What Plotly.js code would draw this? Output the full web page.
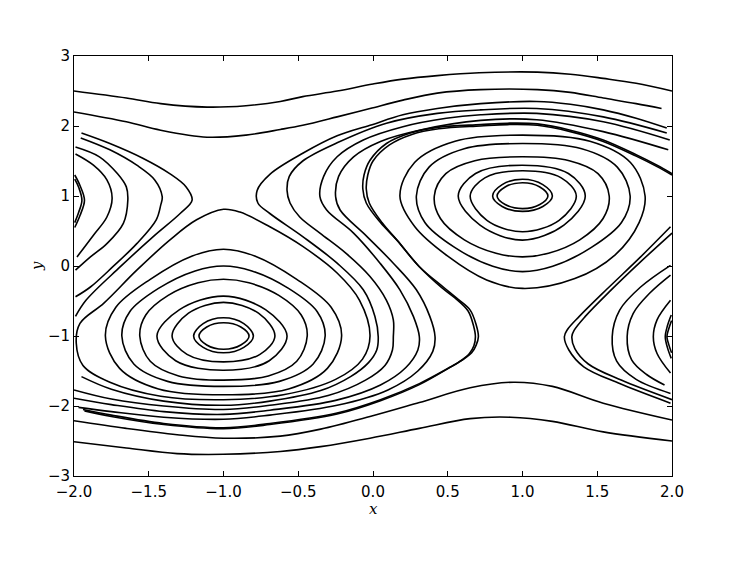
<!DOCTYPE html>
<html>
<head>
<meta charset="utf-8">
<script src="https://cdn.plot.ly/plotly-3.0.1.min.js"></script>
<style>body{margin:0;background:#fff}</style>
</head>
<body>
<div id="plot" style="width:747px;height:561px"></div>
<script>
// streamlines (data units)

// top band
var bandTop1X = [-2,-1.65,-1.42,-1.11,-0.85,-0.62,-0.47,-0.24,0,0.2,0.43,0.71,1.1,1.32,1.54,1.76,2];
var bandTop1Y = [2.5,2.4,2.32,2.27,2.29,2.35,2.42,2.5,2.6,2.67,2.72,2.76,2.77,2.74,2.68,2.61,2.5];
var bandTop2X = [-2,-1.65,-1.42,-1.11,-0.85,-0.62,-0.47,-0.24,-0.02,0.2,0.43,0.72,1.1,1.32,1.54,1.76,1.93];
var bandTop2Y = [2.2,2.06,1.94,1.84,1.87,1.95,2.01,2.13,2.25,2.37,2.47,2.52,2.52,2.48,2.4,2.32,2.25];

// bottom band
var bandBot1X = [-2,-1.65,-1.31,-1.0,-0.62,-0.35,-0.02,0.31,0.65,0.92,1.2,1.54,2];
var bandBot1Y = [-2.51,-2.6,-2.68,-2.69,-2.65,-2.58,-2.46,-2.32,-2.18,-2.16,-2.22,-2.37,-2.5];
var bandBot2X = [-2,-1.65,-1.31,-1.0,-0.62,-0.35,-0.02,0.31,0.65,0.94,1.2,1.54,2];
var bandBot2Y = [-2.21,-2.32,-2.41,-2.46,-2.43,-2.33,-2.15,-1.95,-1.74,-1.66,-1.72,-1.96,-2.2];

// left of the saddle at (-1, 1)
var left1X = [-1.95,-1.76,-1.54,-1.36,-1.25,-1.21,-1.29,-1.47,-1.69,-1.92,-1.99];
var left1Y = [1.9,1.75,1.54,1.32,1.13,0.94,0.75,0.42,-0.01,-0.49,-0.72];
var left2X = [-1.955,-1.76,-1.58,-1.46,-1.41,-1.42,-1.45,-1.58,-1.74,-1.89,-1.99];
var left2Y = [1.83,1.66,1.44,1.23,0.99,0.87,0.66,0.32,-0.01,-0.3,-0.44];
var left3X = [-1.99,-1.83,-1.71,-1.65,-1.64,-1.67,-1.78,-1.89,-1.99];
var left3Y = [1.7,1.56,1.32,1.13,0.94,0.61,0.32,0.13,-0.06];
var left4X = [-1.99,-1.87,-1.78,-1.745,-1.78,-1.87,-1.98];
var left4Y = [1.6,1.44,1.23,0.97,0.7,0.44,0.13];
var edgeL1X = [-1.995,-1.96,-1.93,-1.96,-1.995];
var edgeL1Y = [1.3,1.15,0.94,0.72,0.55];
var edgeL2X = [-1.995,-1.968,-1.947,-1.968,-1.995];
var edgeL2Y = [1.24,1.12,0.94,0.77,0.62];

// right of the saddle at (1, -1)
var right1X = [1.99,1.79,1.65,1.6,1.63,1.76,1.99];
var right1Y = [0.01,-0.3,-0.63,-1.01,-1.36,-1.62,-1.82];
var right2X = [1.99,1.85,1.74,1.7,1.73,1.83,1.95];
var right2Y = [-0.13,-0.39,-0.68,-1.01,-1.34,-1.55,-1.7];
var right3X = [1.99,1.9,1.875,1.9,1.99];
var right3Y = [-0.49,-0.77,-1.01,-1.25,-1.53];
var rightU1X = [1.99,1.79,1.56,1.38,1.3,1.28,1.31,1.41,1.65,1.99];
var rightU1Y = [0.56,0.13,-0.34,-0.72,-0.91,-1.01,-1.2,-1.44,-1.68,-1.96];
var rightU2X = [2.0,1.8,1.58,1.42,1.345,1.33,1.35,1.44,1.66,2.0];
var rightU2Y = [0.47,0.08,-0.37,-0.72,-0.92,-1.01,-1.18,-1.4,-1.63,-1.91];
var edgeR1X = [1.995,1.97,1.955,1.97,1.995];
var edgeR1Y = [-0.7,-0.85,-1.01,-1.17,-1.32];
var edgeR2X = [1.997,1.978,1.966,1.978,1.997];
var edgeR2Y = [-0.78,-0.9,-1.01,-1.12,-1.24];

// long S-shaped lines, bottom left to top right
var s0X = [-1.95,-1.75,-1.4,-1.0,-0.69,-0.35,-0.15,-0.03,0.025,0.035,0.013,-0.065,-0.24,-0.47,-0.69,-0.77,-0.775,-0.69,-0.47,-0.24,-0.02,0.2,0.43,0.72,1.095,1.32,1.54,1.76,1.965];
var s0Y = [-1.58,-1.76,-1.93,-1.99,-1.93,-1.78,-1.58,-1.38,-1.2,-1.01,-0.72,-0.34,0.04,0.42,0.75,0.9,1.08,1.31,1.61,1.86,2.01,2.16,2.25,2.32,2.35,2.31,2.23,2.11,1.97];
var s1X = [-2.0,-1.75,-1.4,-1.0,-0.69,-0.3,-0.05,0.08,0.13,0.136,0.136,0.09,-0.02,-0.18,-0.355,-0.49,-0.555,-0.575,-0.56,-0.47,-0.24,0.09,0.43,0.72,1.095,1.54,1.965];
var s1Y = [-1.77,-1.9,-2.0,-2.05,-1.99,-1.85,-1.63,-1.42,-1.2,-1.01,-0.77,-0.49,-0.15,0.18,0.47,0.7,0.9,1.08,1.28,1.5,1.76,2.04,2.18,2.23,2.25,2.13,1.9];
var s2X = [-2.0,-1.75,-1.4,-1.0,-0.69,-0.25,0.05,0.22,0.3,0.31,0.27,0.18,0.047,-0.13,-0.31,-0.355,-0.33,-0.24,-0.065,0.2,0.49,0.72,1.095,1.54,1.985];
var s2Y = [-1.89,-1.98,-2.08,-2.12,-2.06,-1.92,-1.7,-1.45,-1.2,-1.01,-0.72,-0.34,0.04,0.47,0.8,0.99,1.28,1.56,1.8,1.99,2.11,2.16,2.18,2.06,1.8];
var s3X = [-1.97,-1.75,-1.4,-1.0,-0.69,-0.24,0.1,0.3,0.4,0.415,0.38,0.29,0.136,-0.04,-0.22,-0.25,-0.23,-0.13,0.05,0.31,0.72,1.095,1.54,1.975];
var s3Y = [-2.02,-2.08,-2.16,-2.19,-2.13,-1.99,-1.77,-1.5,-1.22,-1.01,-0.72,-0.34,0.04,0.42,0.8,0.99,1.28,1.56,1.78,1.94,2.08,2.09,1.92,1.66];
var sep1X = [-1.94,-1.75,-1.4,-1.0,-0.69,-0.24,0.05,0.31,0.52,0.6,0.66,0.69,0.705,0.69,0.65,0.56,0.47,0.31,0.16,0.05,-0.045,-0.068,-0.06,-0.02,0.09,0.25,0.43,0.72,0.9,1.1,1.32,1.54,1.76,1.9,2.0];
var sep1Y = [-2.05,-2.13,-2.25,-2.31,-2.25,-2.1,-1.91,-1.68,-1.44,-1.34,-1.24,-1.13,-1.01,-0.84,-0.63,-0.46,-0.3,-0.01,0.37,0.62,0.9,1.1,1.3,1.51,1.75,1.9,1.98,2.02,2.04,2.03,1.94,1.8,1.59,1.44,1.32];
var sep2X = [-1.93,-1.75,-1.4,-1.0,-0.69,-0.24,0.05,0.31,0.51,0.59,0.645,0.675,0.685,0.672,0.635,0.55,0.46,0.31,0.16,0.06,-0.025,-0.045,-0.035,0.0,0.11,0.26,0.44,0.72,0.9,1.1,1.32,1.54,1.76,1.9,2.0];
var sep2Y = [-2.07,-2.15,-2.265,-2.325,-2.265,-2.115,-1.925,-1.695,-1.455,-1.35,-1.25,-1.14,-1.01,-0.85,-0.64,-0.46,-0.31,-0.01,0.37,0.62,0.9,1.1,1.3,1.5,1.73,1.88,1.96,2.0,2.02,2.01,1.92,1.78,1.57,1.42,1.3];

// closed orbits round (-1, -1)
var lowA_X = [-1.2,-1.136,-1.0,-0.864,-0.8,-0.864,-1.0,-1.136,-1.2];
var lowA_Y = [-1.0,-0.823,-0.74,-0.823,-1.0,-1.163,-1.24,-1.163,-1.0];
var lowB_X = [-1.164,-1.112,-1.0,-0.884,-0.829,-0.884,-1.0,-1.112,-1.164];
var lowB_Y = [-1.0,-0.871,-0.81,-0.871,-1.0,-1.129,-1.19,-1.129,-1.0];
var low1X = [-1.344,-1.234,-1.0,-0.766,-0.656,-0.756,-1.0,-1.244,-1.344];
var low1Y = [-1.0,-0.674,-0.52,-0.674,-1.0,-1.263,-1.37,-1.263,-1.0];
var low2X = [-1.445,-1.294,-1.0,-0.719,-0.575,-0.694,-1.0,-1.32,-1.445];
var low2Y = [-1.0,-0.624,-0.43,-0.624,-1.0,-1.353,-1.49,-1.353,-1.0];
var low3X = [-1.56,-1.52,-1.37,-1.17,-1.0,-0.83,-0.63,-0.48,-0.44,-0.51,-0.7,-1.0,-1.3,-1.49,-1.56];
var low3Y = [-1.0,-0.7,-0.42,-0.24,-0.19,-0.24,-0.42,-0.7,-1.0,-1.36,-1.57,-1.63,-1.57,-1.36,-1.0];
var low4X = [-1.68,-1.626,-1.435,-1.19,-1.0,-0.81,-0.565,-0.374,-0.32,-0.4,-0.626,-1.0,-1.374,-1.6,-1.68];
var low4Y = [-1.0,-0.65,-0.32,-0.07,0.0,-0.07,-0.32,-0.65,-1.0,-1.4,-1.648,-1.72,-1.648,-1.4,-1.0];
var low5X = [-1.79,-1.72,-1.49,-1.213,-1.0,-0.787,-0.51,-0.28,-0.21,-0.305,-0.565,-1.0,-1.435,-1.695,-1.79];
var low5Y = [-1.0,-0.59,-0.19,0.141,0.24,0.141,-0.19,-0.59,-1.0,-1.462,-1.756,-1.84,-1.756,-1.462,-1.0];
var low6X = [-1.0,-0.89,-0.69,-0.47,-0.24,-0.09,-0.02,-0.07,-0.25,-0.6,-1.0,-1.42,-1.76,-1.94,-1.985,-1.96,-1.8,-1.58,-1.36,-1.18,-1.0];
var low6Y = [0.81,0.77,0.56,0.28,-0.1,-0.49,-1.0,-1.33,-1.62,-1.84,-1.91,-1.86,-1.66,-1.42,-1.1,-0.82,-0.53,-0.06,0.37,0.66,0.81];

// closed orbits round (1, 1)
var upA_X = [0.8,0.864,1.0,1.136,1.2,1.136,1.0,0.864,0.8];
var upA_Y = [1.0,1.163,1.24,1.163,1.0,0.85,0.78,0.85,1.0];
var upB_X = [0.83,0.884,1.0,1.116,1.17,1.116,1.0,0.884,0.83];
var upB_Y = [1.0,1.129,1.19,1.129,1.0,0.878,0.82,0.878,1.0];
var up1X = [0.65,0.748,1.0,1.259,1.36,1.245,1.0,0.762,0.65];
var up1Y = [1.0,1.259,1.36,1.259,1.0,0.653,0.49,0.653,1.0];
var up2X = [0.57,0.686,1.0,1.307,1.42,1.277,1.0,0.716,0.57];
var up2Y = [1.0,1.321,1.44,1.321,1.0,0.584,0.37,0.584,1.0];
var up3X = [0.41,0.487,0.681,1.0,1.313,1.505,1.58,1.539,1.383,1.174,1.0,0.823,0.611,0.451,0.41];
var up3Y = [1.0,1.319,1.504,1.56,1.504,1.319,1.0,0.678,0.374,0.182,0.13,0.182,0.374,0.678,1.0];
var up4X = [0.29,0.375,0.61,1.0,1.396,1.634,1.72,1.662,1.461,1.202,1.0,0.801,0.546,0.347,0.29];
var up4Y = [1.0,1.413,1.675,1.75,1.675,1.413,1.0,0.622,0.266,-0.004,-0.08,-0.004,0.266,0.622,1.0];
var up5X = [0.18,0.278,0.549,1.0,1.451,1.722,1.82,1.78,1.62,1.35,1.0,0.76,0.5,0.28,0.18];
var up5Y = [1.0,1.479,1.783,1.87,1.783,1.479,1.0,0.62,0.16,-0.18,-0.32,-0.2,0.14,0.56,1.0];

var xTicks = [-2,-1.5,-1,-0.5,0,0.5,1,1.5,2];
var xTickText = ['\u22122.0','\u22121.5','\u22121.0','\u22120.5','0.0','0.5','1.0','1.5','2.0'];
var yTicks = [-3,-2,-1,0,1,2,3];
var yTickText = ['\u22123','\u22122','\u22121','0','1','2','3'];

var paths = [
    [bandTop1X, bandTop1Y], [bandTop2X, bandTop2Y],
    [bandBot1X, bandBot1Y], [bandBot2X, bandBot2Y],
    [left1X, left1Y], [left2X, left2Y], [left3X, left3Y], [left4X, left4Y],
    [edgeL1X, edgeL1Y], [edgeL2X, edgeL2Y],
    [right1X, right1Y], [right2X, right2Y], [right3X, right3Y],
    [rightU1X, rightU1Y], [rightU2X, rightU2Y],
    [edgeR1X, edgeR1Y], [edgeR2X, edgeR2Y],
    [s0X, s0Y], [s1X, s1Y], [s2X, s2Y], [s3X, s3Y],
    [sep1X, sep1Y], [sep2X, sep2Y],
    [lowA_X, lowA_Y], [lowB_X, lowB_Y], [low1X, low1Y], [low2X, low2Y],
    [low3X, low3Y], [low4X, low4Y], [low5X, low5Y], [low6X, low6Y],
    [upA_X, upA_Y], [upB_X, upB_Y], [up1X, up1Y], [up2X, up2Y],
    [up3X, up3Y], [up4X, up4Y], [up5X, up5Y]
];

var traces = paths.map(p => ({
    x: p[0],
    y: p[1],
    type: 'scatter',
    mode: 'lines',
    line: {color: '#000', width: 1.6, shape: 'spline', smoothing: 1, simplify: false},
    hoverinfo: 'skip',
    showlegend: false
}));

var axisStyle = {
    ticks: 'inside',
    ticklen: 5,
    tickwidth: 1,
    tickcolor: '#000',
    showline: true,
    linecolor: '#000',
    linewidth: 1,
    mirror: 'allticks',
    showgrid: false,
    zeroline: false,
    tickfont: {family: 'DejaVu Sans', size: 15, color: '#000'}
};

var labelFont = {family: 'DejaVu Serif', size: 15, color: '#000'};

var layout = {
    width: 747,
    height: 561,
    margin: {l: 74, r: 75, t: 56, b: 85},
    paper_bgcolor: '#fff',
    plot_bgcolor: '#fff',
    xaxis: Object.assign({}, axisStyle, {
        range: [-2, 2],
        tickmode: 'array',
        tickvals: xTicks,
        ticktext: xTickText,
        ticklabelstandoff: 2
    }),
    yaxis: Object.assign({}, axisStyle, {
        range: [-3, 3],
        tickmode: 'array',
        tickvals: yTicks,
        ticktext: yTickText
    }),
    annotations: [
        {text: '<i>x</i>', xref: 'paper', yref: 'paper', x: 0.5, y: -0.078,
         xanchor: 'center', yanchor: 'middle', showarrow: false, font: labelFont},
        {text: '<i>y</i>', xref: 'paper', yref: 'paper', x: -0.062, y: 0.5,
         xanchor: 'center', yanchor: 'middle', textangle: -90, showarrow: false, font: labelFont}
    ]
};

Plotly.newPlot('plot', traces, layout, {staticPlot: true});
</script>
</body>
</html>
